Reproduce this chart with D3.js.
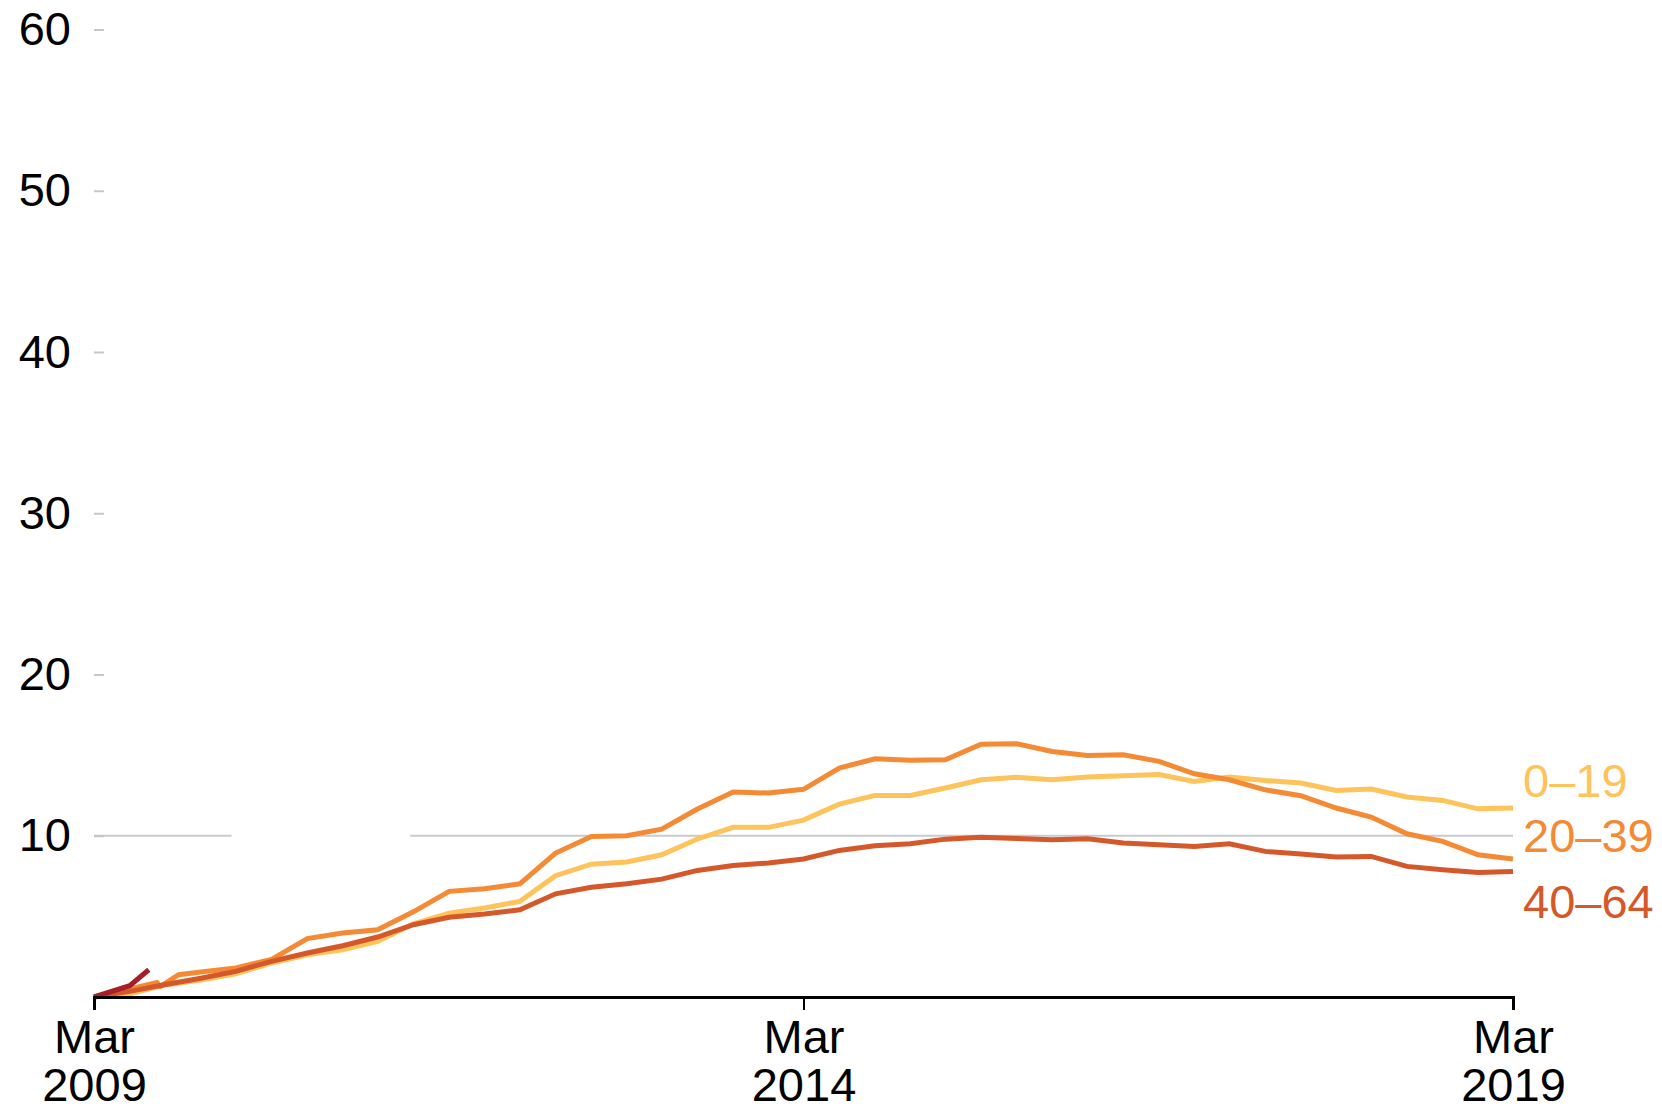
<!DOCTYPE html>
<html>
<head>
<meta charset="utf-8">
<script src="https://cdn.jsdelivr.net/npm/d3@7"></script>
<style>
  html, body { margin: 0; padding: 0; background: #fff; }
  svg { display: block; font-family: "Liberation Sans", Arial, Helvetica, sans-serif; }
</style>
</head>
<body>
<svg id="chart" width="1662" height="1113"></svg>
<script>
// ---------- DATA ----------
const quarters = [
  "2009-03","2009-06","2009-09","2009-12",
  "2010-03","2010-06","2010-09","2010-12",
  "2011-03","2011-06","2011-09","2011-12",
  "2012-03","2012-06","2012-09","2012-12",
  "2013-03","2013-06","2013-09","2013-12",
  "2014-03","2014-06","2014-09","2014-12",
  "2015-03","2015-06","2015-09","2015-12",
  "2016-03","2016-06","2016-09","2016-12",
  "2017-03","2017-06","2017-09","2017-12",
  "2018-03","2018-06","2018-09","2018-12",
  "2019-03"
];

const age0_19 = [
  0, 0.2, 0.75, 1.05,
  1.44, 2.11, 2.62, 2.93,
  3.45, 4.54, 5.2, 5.52,
  5.93, 7.52, 8.24, 8.37,
  8.82, 9.8, 10.52, 10.52,
  10.97, 11.96, 12.5, 12.5,
  12.96, 13.47, 13.62, 13.47,
  13.64, 13.72, 13.8, 13.37,
  13.64, 13.43, 13.27, 12.81,
  12.9, 12.4, 12.19, 11.67,
  11.72
];

// 20–39 series: early readings are irregular, so it carries its own dates
const age20_39Dates = [
  "2009-03-01","2009-06-01","2009-08-10","2009-08-19","2009-10-05",
  "2009-12-01","2010-03-01","2010-06-01","2010-09-01","2010-12-01",
  "2011-03-01","2011-06-01","2011-09-01","2011-12-01","2012-03-01",
  "2012-06-01","2012-09-01","2012-12-01","2013-03-01","2013-06-01",
  "2013-09-01","2013-12-01","2014-03-01","2014-06-01","2014-09-01",
  "2014-12-01","2015-03-01","2015-06-01","2015-09-01","2015-12-01",
  "2016-03-01","2016-06-01","2016-09-01","2016-12-01","2017-03-01",
  "2017-06-01","2017-09-01","2017-12-01","2018-03-01","2018-06-01",
  "2018-09-01","2018-12-01","2019-03-01"
];
const age20_39 = [
  0, 0.5, 0.9, 0.66, 1.38,
  1.55, 1.8, 2.33, 3.62, 3.97,
  4.17, 5.28, 6.55, 6.71, 7.02,
  8.93, 9.96, 10.0, 10.41, 11.66,
  12.71, 12.65, 12.88, 14.2, 14.77,
  14.68, 14.71, 15.68, 15.7, 15.23,
  14.98, 15.02, 14.61, 13.84, 13.47,
  12.85, 12.48, 11.72, 11.16, 10.12,
  9.65, 8.82, 8.56
];

const age40_64 = [
  0, 0.35, 0.78, 1.16,
  1.59, 2.21, 2.73, 3.18,
  3.72, 4.48, 4.95, 5.15,
  5.41, 6.4, 6.8, 7.02,
  7.31, 7.85, 8.16, 8.31,
  8.56, 9.09, 9.38, 9.5,
  9.79, 9.9, 9.83, 9.75,
  9.81, 9.55, 9.44, 9.34,
  9.5, 9.03, 8.87, 8.68,
  8.72, 8.1, 7.89, 7.72,
  7.79
];

const age65Dates = ["2009-03-01", "2009-06-01", "2009-07-20"];
const age65 = [0, 0.7, 1.69];

const seriesNames = ["0–19", "20–39", "40–64", "65+"];
const yTickValues = [10, 20, 30, 40, 50, 60];
const xTickDates = ["2009-03-01", "2014-03-01", "2019-03-01"];
const xTickLabels = [["Mar", "2009"], ["Mar", "2014"], ["Mar", "2019"]];
const referenceValue = 10;

// ---------- STYLE ----------
const colors = {
  "0–19": "#fec35b",
  "20–39": "#f48a33",
  "40–64": "#d5582a",
  "65+": "#a41f27"
};
const labelOffset = { "0–19": -28, "20–39": -24, "40–64": 30 };
const W = 1662, H = 1113;
const plotLeft = 94, plotRight = 1513, plotTop = 29.5, plotBottom = 997;
const fontSize = 47;

// ---------- BUILD ----------
const parse = s => s.length === 7 ? d3.timeParse("%Y-%m")(s) : d3.timeParse("%Y-%m-%d")(s);
const qDates = quarters.map(parse);

const series = [
  { name: "0–19", pts: qDates.map((d, i) => [d, age0_19[i]]), label: true },
  { name: "20–39", pts: age20_39Dates.map((d, i) => [parse(d), age20_39[i]]), label: true },
  { name: "40–64", pts: qDates.map((d, i) => [d, age40_64[i]]), label: true },
  { name: "65+", pts: age65Dates.map((d, i) => [parse(d), age65[i]]), label: false }
];

const svg = d3.select("#chart");

const x = d3.scaleTime()
  .domain([parse("2009-03-01"), parse("2019-03-01")])
  .range([plotLeft, plotRight]);
const y = d3.scaleLinear().domain([0, 60]).range([plotBottom, plotTop]);

// reference line at 10 (with a small break as in the original)
const gapStart = x(parse("2010-02-18")), gapEnd = x(parse("2011-05-24"));
const ry = y(referenceValue);
svg.append("line")
  .attr("x1", plotLeft).attr("x2", gapStart).attr("y1", ry).attr("y2", ry)
  .attr("stroke", "#c7cacf").attr("stroke-width", 2.2);
svg.append("line")
  .attr("x1", gapEnd).attr("x2", plotRight).attr("y1", ry).attr("y2", ry)
  .attr("stroke", "#c7cacf").attr("stroke-width", 2.2);

// y axis
const yAxis = d3.axisLeft(y).tickValues(yTickValues).tickSize(-10).tickPadding(23).tickFormat(d3.format("d"));
const gy = svg.append("g").attr("transform", `translate(${plotLeft},0)`).call(yAxis);
gy.select(".domain").remove();
gy.selectAll(".tick line").attr("stroke", "#c4c7cc").attr("stroke-width", 2);
gy.selectAll(".tick text")
  .attr("fill", "#000")
  .style("font-size", fontSize + "px")
  .style("font-family", "'Liberation Sans', Arial, sans-serif");

// lines
const line = d3.line().x(d => x(d[0])).y(d => y(d[1]));
svg.append("g").selectAll("path")
  .data(series)
  .join("path")
  .attr("d", d => line(d.pts))
  .attr("fill", "none")
  .attr("stroke", d => colors[d.name])
  .attr("stroke-width", 5)
  .attr("stroke-linejoin", "miter");

// x axis
const xAxis = d3.axisBottom(x).tickValues(xTickDates.map(parse)).tickSize(13).tickFormat("");
const gx = svg.append("g").attr("transform", `translate(0,${plotBottom})`).call(xAxis);
gx.select(".domain").attr("stroke", "#000").attr("stroke-width", 3);
gx.selectAll(".tick line").attr("stroke", "#000").attr("stroke-width", 2);
gx.selectAll(".tick text").remove();
gx.selectAll(".tick").each(function(d, i) {
  const t = d3.select(this).append("text")
    .attr("fill", "#000")
    .attr("text-anchor", "middle")
    .style("font-size", fontSize + "px")
    .style("font-family", "'Liberation Sans', Arial, sans-serif");
  t.append("tspan").attr("x", 0).attr("y", 56).text(xTickLabels[i][0]);
  t.append("tspan").attr("x", 0).attr("y", 104).text(xTickLabels[i][1]);
});

// end labels
svg.append("g").selectAll("text")
  .data(series.filter(s => s.label))
  .join("text")
  .attr("x", d => x(d.pts[d.pts.length - 1][0]) + 10)
  .attr("y", d => y(d.pts[d.pts.length - 1][1]) + labelOffset[d.name])
  .attr("dy", "0.36em")
  .attr("fill", d => colors[d.name])
  .style("font-size", fontSize + "px")
  .text(d => d.name);
</script>
</body>
</html>
